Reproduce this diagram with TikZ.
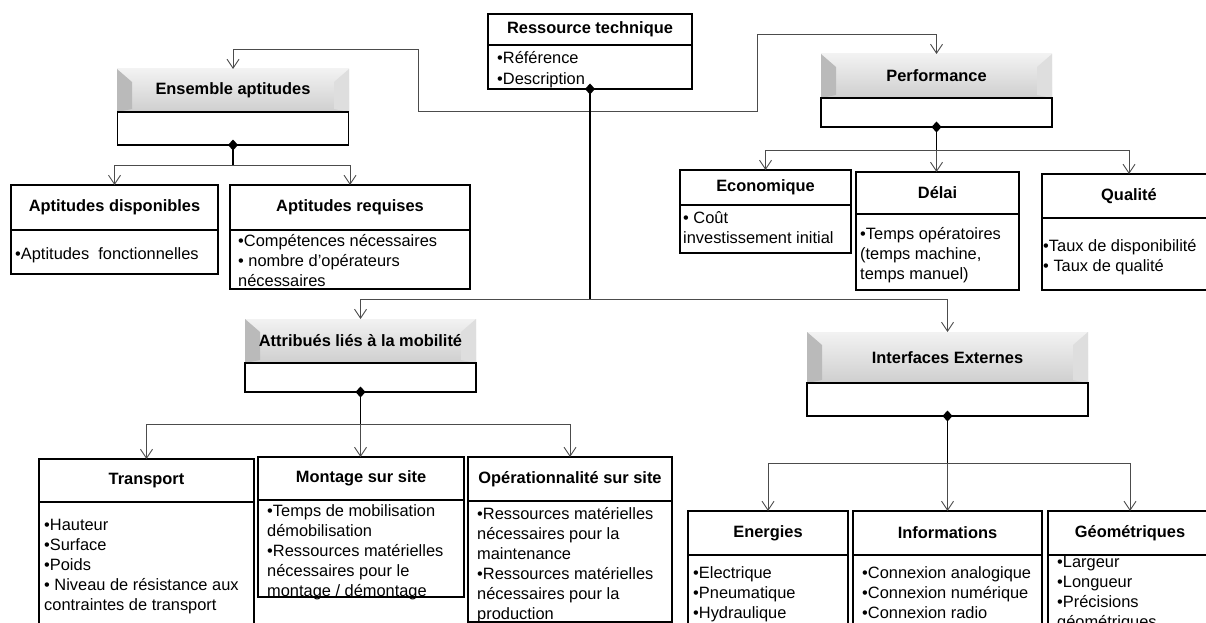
\documentclass[tikz,border=0pt]{standalone}
\usepackage{fontspec}
\setmainfont{Liberation Sans}
\usetikzlibrary{arrows.meta, positioning}

\tikzset{
  head/.style={rectangle, draw, line width=1.6pt, fill=white, inner sep=0pt, outer sep=0pt,
    font=\bfseries\fontsize{16.4}{19}\selectfont},
  body/.style={rectangle, draw, line width=1.6pt, fill=white, inner sep=0pt, outer sep=0pt},
  bevel/.style={rectangle, inner sep=0pt, outer sep=0pt, top color=black!5, bottom color=black!19,
    font=\bfseries\fontsize{16.4}{19}\selectfont,
    path picture={
      \fill[black!27] (path picture bounding box.north west)
        -- ([shift={(15pt,-13pt)}]path picture bounding box.north west)
        -- ([shift={(15pt,3pt)}]path picture bounding box.south west)
        -- (path picture bounding box.south west) -- cycle;
      \fill[black!13] (path picture bounding box.north east)
        -- ([shift={(-15pt,-13pt)}]path picture bounding box.north east)
        -- ([shift={(-15pt,3pt)}]path picture bounding box.south east)
        -- (path picture bounding box.south east) -- cycle;
    }},
  items/.style={anchor=north west, align=left, inner sep=0pt, font=\fontsize{16.4}{20}\selectfont},
  link/.style={draw=black!70, line width=0.9pt, -{Straight Barb[length=9pt,width=12pt]}},
  twoway/.style={draw=black!70, line width=0.9pt,
    {Straight Barb[length=9pt,width=12pt]}-{Straight Barb[length=9pt,width=12pt]}},
  stem/.style={draw=black, line width=1.8pt, {Diamond[length=11pt,width=10pt]}-, shorten <=-5.5pt}
}

\begin{document}
\begin{tikzpicture}[x=1pt, y=-1pt]
  \useasboundingbox (0,0) rectangle (1206,623);
  \clip (0,0) rectangle (1206,623);

  % Ressource technique
  \node[head, minimum width=204pt, minimum height=31pt] (rt) at (590,29.5) {Ressource technique};
  \node[body, minimum width=204pt, minimum height=44pt, below=0pt of rt] (rtb) {};
  \node[items] (rtl) at (497,51) {•Référence\\[1pt]•Description};

  % Ensemble aptitudes
  \node[bevel, minimum width=232pt, minimum height=43pt] (ens) at (233,90.5) {Ensemble aptitudes};
  \node[body, minimum width=231pt, minimum height=33pt, below=0pt of ens] (ensb) {};

  \node[head, minimum width=207pt, minimum height=45pt] (dispo) at (114.5,207.5) {Aptitudes disponibles};
  \node[body, minimum width=207pt, minimum height=44pt, below=0pt of dispo] (dispob) {};
  \node[items] (dispol) at (15,247) {•Aptitudes\ \ fonctionnelles};

  \node[head, minimum width=240pt, minimum height=45pt] (requ) at (350,207.5) {Aptitudes requises};
  \node[body, minimum width=240pt, minimum height=59pt, below=0pt of requ] (requb) {};
  \node[items] (requl) at (238,234) {•Compétences nécessaires\\• nombre d’opérateurs\\nécessaires};

  % Performance
  \node[bevel, minimum width=231pt, minimum height=44pt] (perf) at (936.5,76) {Performance};
  \node[body, minimum width=231pt, minimum height=29pt, below=0pt of perf] (perfb) {};

  \node[head, minimum width=171pt, minimum height=35pt] (eco) at (765.5,187.5) {Economique};
  \node[body, minimum width=171pt, minimum height=48pt, below=0pt of eco] (ecob) {};
  \node[items] (ecol) at (683,211) {• Coût\\investissement initial};

  \node[head, minimum width=163pt, minimum height=42pt] (delai) at (937.5,193) {Délai};
  \node[body, minimum width=163pt, minimum height=76pt, below=0pt of delai] (delaib) {};
  \node[items] (delail) at (860,227) {•Temps opératoires\\(temps machine,\\temps manuel)};

  \node[head, minimum width=174pt, minimum height=44pt] (qual) at (1129,196) {Qualité};
  \node[body, minimum width=174pt, minimum height=72pt, below=0pt of qual] (qualb) {};
  \node[items] (quall) at (1043,239) {•Taux de disponibilité\\• Taux de qualité};

  % Attribues lies a la mobilite
  \node[bevel, minimum width=231pt, minimum height=44pt] (attr) at (360.5,341) {Attribués liés à la mobilité};
  \node[body, minimum width=231pt, minimum height=29pt, below=0pt of attr] (attrb) {};

  \node[head, minimum width=215pt, minimum height=43pt] (trans) at (146.5,480.5) {Transport};
  \node[body, minimum width=215pt, minimum height=140pt, below=0pt of trans] (transb) {};
  \node[items] (transl) at (44,519) {•Hauteur\\•Surface\\•Poids\\• Niveau de résistance aux\\contraintes de transport};

  \node[head, minimum width=206pt, minimum height=43pt] (mont) at (361,478.5) {Montage sur site};
  \node[body, minimum width=206pt, minimum height=97pt, below=0pt of mont] (montb) {};
  \node[items] (montl) at (267,504) {•Temps de mobilisation\\démobilisation\\•Ressources matérielles\\nécessaires pour le\\montage / démontage};

  \node[head, minimum width=204pt, minimum height=44pt] (oper) at (570,479) {Opérationnalité sur site};
  \node[body, minimum width=204pt, minimum height=121pt, below=0pt of oper] (operb) {};
  \node[items] (operl) at (477,507) {•Ressources matérielles\\nécessaires pour la\\maintenance\\•Ressources matérielles\\nécessaires pour la\\production};

  % Interfaces externes
  \node[bevel, minimum width=281pt, minimum height=51pt] (inter) at (947.5,357.5) {Interfaces Externes};
  \node[body, minimum width=281pt, minimum height=33pt, below=0pt of inter] (interb) {};

  \node[head, minimum width=160pt, minimum height=44pt] (ener) at (768,533) {Energies};
  \node[body, minimum width=160pt, minimum height=100pt, below=0pt of ener] (enerb) {};
  \node[items] (enerl) at (693,566) {•Electrique\\•Pneumatique\\•Hydraulique};

  \node[head, minimum width=189pt, minimum height=44pt] (info) at (947.5,533) {Informations};
  \node[body, minimum width=189pt, minimum height=100pt, below=0pt of info] (infob) {};
  \node[items] (infol) at (862,566) {•Connexion analogique\\•Connexion numérique\\•Connexion radio};

  \node[head, minimum width=164pt, minimum height=44pt] (geom) at (1130,533) {Géométriques};
  \node[body, minimum width=164pt, minimum height=100pt, below=0pt of geom] (geomb) {};
  \node[items] (geoml) at (1057,556) {•Largeur\\•Longueur\\•Précisions\\géométriques};

  % Connectors
  \draw[twoway] (ens.north) |- (418,49) |- (757,111) -- (757,34) -| (perf.north);

  \draw[stem] (rtb.south) -- ++(0,210) coordinate (rtj);
  \draw[link] (rtj) -| (attr.north);
  \draw[link] (rtj) -| (inter.north);

  \draw[stem] (ensb.south) -- ++(0,20) coordinate (ensj);
  \draw[link] (ensj) -| (dispo.north);
  \draw[link] (ensj) -| (requ.north);

  \draw[stem] (perfb.south) -- ++(0,23) coordinate (perfj);
  \draw[link] (perfj) -| (eco.north);
  \draw[link] (perfj) -- (perfj |- delai.north);
  \draw[link] (perfj) -| (qual.north);

  \draw[stem] (attrb.south) -- ++(0,32) coordinate (attrj);
  \draw[link] (attrj) -| (trans.north);
  \draw[link] (attrj) -- (attrj |- mont.north);
  \draw[link] (attrj) -| (oper.north);

  \draw[stem] (interb.south) -- ++(0,47) coordinate (interj);
  \draw[link] (interj) -| (ener.north);
  \draw[link] (interj) -- (interj |- info.north);
  \draw[link] (interj) -| (geom.north);
\end{tikzpicture}
\end{document}
